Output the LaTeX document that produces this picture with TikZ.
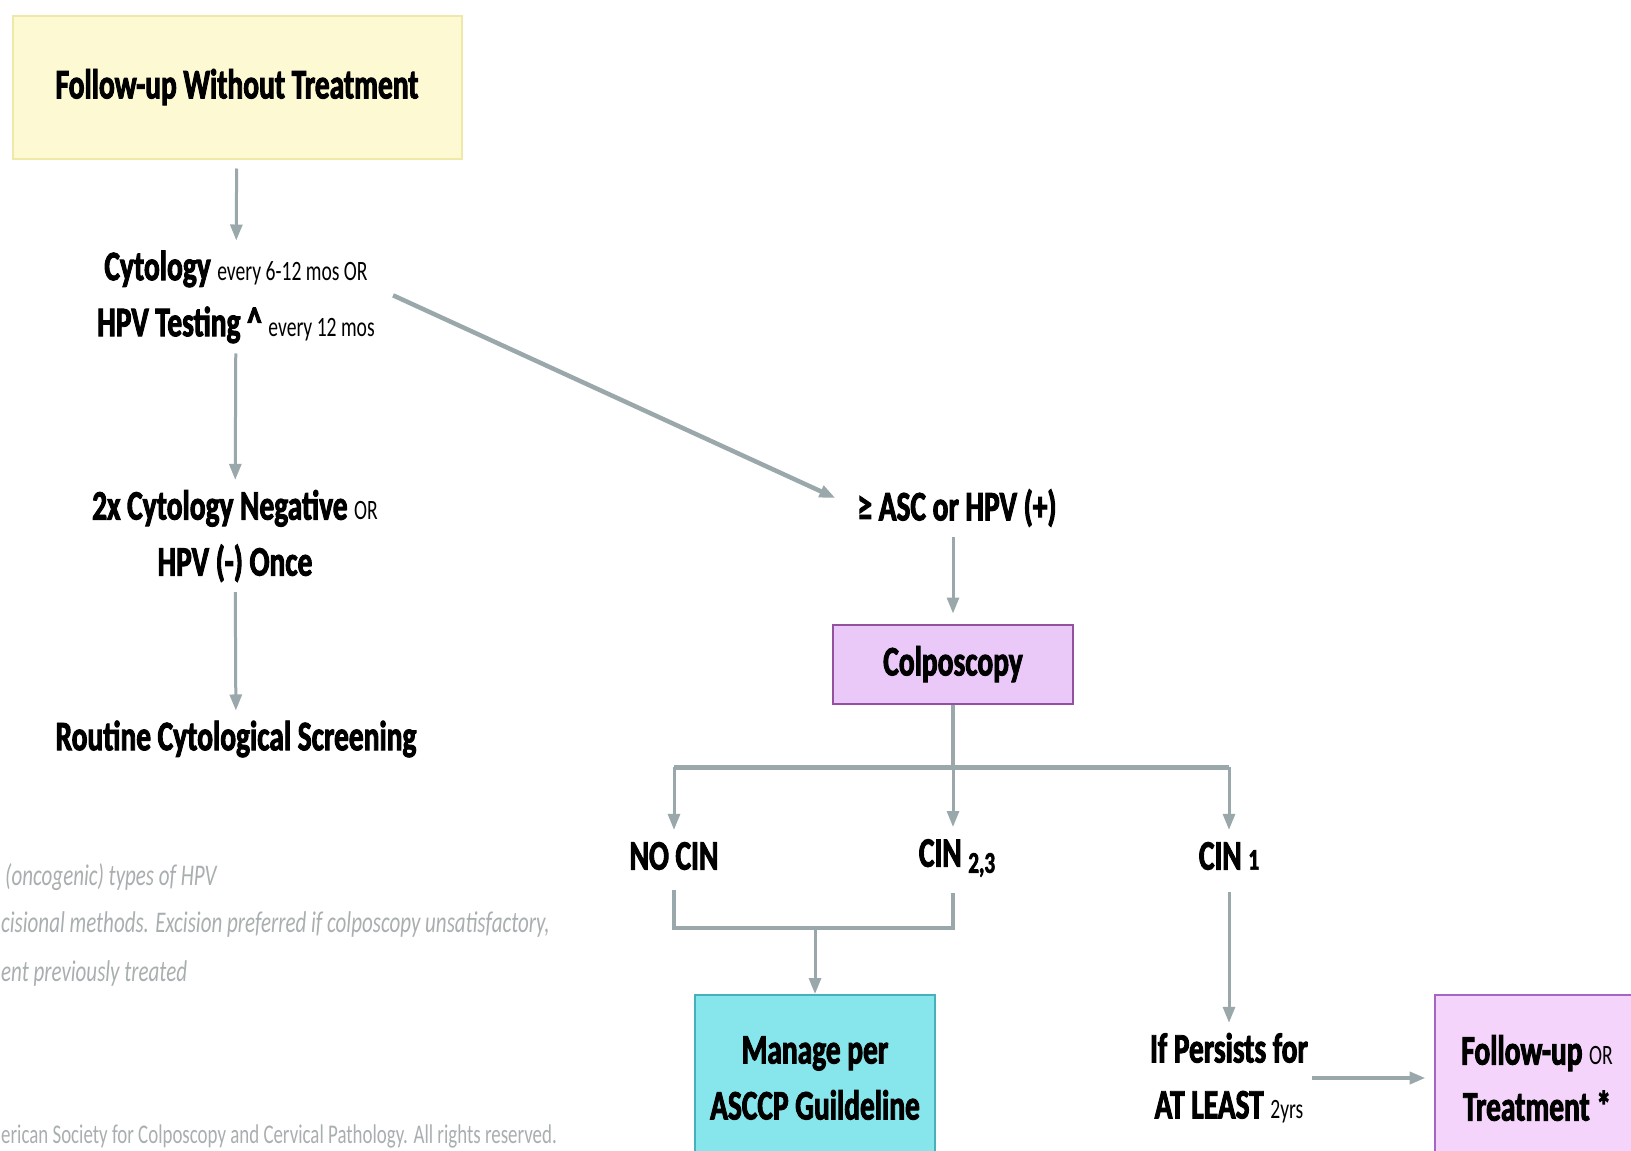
\documentclass[tikz,border=0pt]{standalone}
\usepackage{fontspec}
\setmainfont{Carlito}[FakeStretch=0.7, BoldFeatures={FakeBold=2.2}]
\usetikzlibrary{arrows.meta,positioning}

\definecolor{arrowgray}{HTML}{9AA8AB}
\definecolor{notegray}{HTML}{A9AEB0}
\definecolor{paleyellow}{HTML}{FDF9D3}
\definecolor{yellowedge}{HTML}{EFE8A8}
\definecolor{lilacfill}{HTML}{EAC8F7}
\definecolor{lilacedge}{HTML}{93519F}
\definecolor{aquafill}{HTML}{86E6EC}
\definecolor{aquaedge}{HTML}{45B1BA}
\definecolor{orchidfill}{HTML}{F4D4FB}
\definecolor{orchidedge}{HTML}{A565C2}

\newcommand{\minor}[1]{{\mdseries\fontsize{28}{56}\selectfont #1}}
\newcommand{\grade}[1]{{\fontsize{30}{56}\selectfont #1}}

\begin{document}
\begin{tikzpicture}[x=1pt,y=-1pt,
    txt/.style={inner sep=0pt, align=center, font=\fontsize{42}{56}\selectfont\bfseries},
    box/.style={txt, draw, line width=2pt},
    arrow/.style={draw=arrowgray, line width=3pt, -{Triangle[length=16pt,width=12pt]}},
    bar/.style={draw=arrowgray, line width=5pt},
    note/.style={inner sep=0pt, anchor=west, text=notegray, font=\fontsize{30}{30}\selectfont\itshape}]

    \useasboundingbox (0,0) rectangle (1631,1151);

    % left column
    \node [box, fill=paleyellow, draw=yellowedge, minimum width=449pt, minimum height=143pt]
        (start) at (237,87) {Follow-up Without Treatment};
    \node [txt] (cyto) at (236,297)
        {Cytology \minor{every 6-12 mos OR}\\HPV Testing \textasciicircum\ \minor{every 12 mos}};
    \node [txt] (neg) at (235,536) {2x Cytology Negative \minor{OR}\\HPV (-) Once};
    \node [txt] (routine) at (236,739) {Routine Cytological Screening};

    \draw [arrow, shorten <=9pt, shorten >=10pt] (start) -- (cyto);
    \draw [arrow, shorten <=10pt, shorten >=10pt] (cyto) -- (neg);
    \draw [arrow, shorten <=10pt, shorten >=10pt] (neg) -- (routine);

    % right column
    \node [txt] (asc) at (957,508) {≥ ASC or HPV (+)};
    \node [box, fill=lilacfill, draw=lilacedge, minimum width=240pt, minimum height=79pt]
        (colpo) at (953,664) {Colposcopy};

    \draw [arrow, line width=4.5pt, shorten <=20pt, shorten >=24pt] ([yshift=10pt]cyto.east) -- (asc.west);
    \draw [arrow, shorten <=10pt, shorten >=10pt] (asc.south -| colpo) -- (colpo);

    % split after colposcopy
    \coordinate (split) at (953,767);
    \node [txt] (nocin) at (674,856) {NO CIN};
    \node [txt] (cintwo) at (957,858) {CIN \raisebox{-6pt}{\grade{2,3}}};
    \node [txt] (cinone) at (1229,856) {CIN \grade{1}};

    \draw [bar, line width=3.5pt] (colpo.south) -- (split);
    \draw [bar] (split -| nocin) -- (split -| cinone);
    \draw [arrow, shorten >=12pt] (split -| nocin) -- (nocin.north);
    \draw [arrow, shorten >=12pt] (split) -- (split |- cintwo.north);
    \draw [arrow, shorten >=12pt] (split -| cinone) -- (cinone.north);

    % outcomes
    \coordinate (join) at (815,928);
    \node [box, fill=aquafill, draw=aquaedge, minimum width=240pt, minimum height=166pt]
        (manage) at (815,1078) {Manage per\\ASCCP Guildeline};
    \node [txt] (persist) at (1229,1078) {If Persists for\\AT LEAST \minor{2yrs}};
    \node [box, fill=orchidfill, draw=orchidedge, minimum width=205pt, minimum height=166pt]
        (treat) at (1537,1078) {Follow-up \minor{OR}\\Treatment *};

    \draw [bar, line width=3.5pt, shorten <=20pt, shorten >=16pt] (nocin.south) |- (join) -| (split |- cintwo.south);
    \draw [arrow] (join) -- (manage.north);
    \draw [arrow, shorten <=22pt, shorten >=10pt] (cinone.south) -- (persist.north);
    \draw [arrow, line width=4.5pt, shorten <=4pt, shorten >=8pt] (persist.east) -- (treat.west);

    % footnotes, cut at the left edge
    \node [note] (noteA) at (5,877) {(oncogenic) types of HPV};
    \node [note] (noteB) at (1,924) {cisional methods. Excision preferred if colposcopy unsatisfactory,};
    \node [note] (noteC) at (1,973) {ent previously treated};
    \node [note, font=\fontsize{27}{28}\selectfont] (noteD) at (1,1136)
        {erican Society for Colposcopy and Cervical Pathology. All rights reserved.};

\end{tikzpicture}
\end{document}
